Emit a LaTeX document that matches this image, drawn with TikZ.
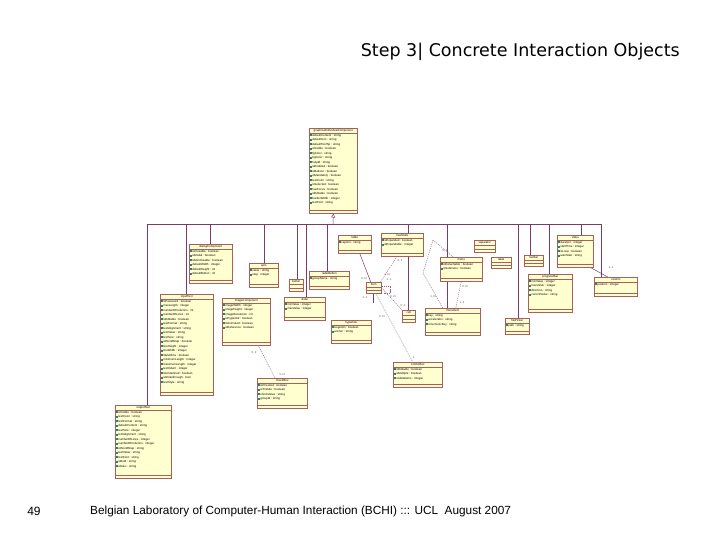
\documentclass[tikz,border=0pt]{standalone}
\usepackage{fontspec}
\setmainfont{Liberation Sans}
\newfontfamily\titlefont{DejaVu Sans}
\newfontfamily\boxfont{Liberation Sans}
\usetikzlibrary{arrows.meta}
\pgfdeclarelayer{bg}
\pgfsetlayers{bg,main}
\definecolor{boxfill}{RGB}{255,255,208}
\definecolor{boxline}{RGB}{170,95,90}
\definecolor{connc}{RGB}{125,60,100}
\definecolor{iconc}{RGB}{40,130,120}
\newcommand\ic{\textcolor{iconc}{\rule{2pt}{2.2pt}}\hspace{0.5pt}}
\tikzset{
  cls/.style={draw=boxline,fill=boxfill,line width=0.5pt,inner sep=0pt},
  ttl/.style={font=\boxfont\fontsize{2.9}{3.4}\selectfont,inner sep=0pt},
  att/.style={anchor=north west,align=left,font=\boxfont\fontsize{2.9}{4.5}\selectfont,inner sep=0pt},
  cn/.style={draw=connc,line width=0.5pt},
  dsh/.style={draw=connc!80,line width=0.4pt,dash pattern=on 1.2pt off 0.9pt},
  lbl/.style={font=\boxfont\fontsize{2.8}{3}\selectfont,text=black!70,inner sep=0.3pt}
}
\newcommand\cbox[7]{%
  \node[cls,minimum width=#4pt,minimum height=#5pt,anchor=north west] (#1) at (#2,#3) {};
  \node[ttl] at ([yshift=-2.7pt]#1.north) {#6};
  \draw[boxline,line width=0.4pt] ([yshift=-5.4pt]#1.north west) -- ([yshift=-5.4pt]#1.north east);
  \draw[boxline,line width=0.4pt] ([yshift=3.5pt]#1.south west) -- ([yshift=3.5pt]#1.south east);
  \node[att] at ([xshift=0.7pt,yshift=-6pt]#1.north west) {#7};
}
\begin{document}
\begin{tikzpicture}[x=1pt,y=-1pt]
\useasboundingbox (0,0) rectangle (720,540);
\begin{pgfonlayer}{bg}
\fill[white] (0,0) rectangle (720,540);
\end{pgfonlayer}

% titles
\node[font=\titlefont\fontsize{17.5}{19}\selectfont,anchor=east,inner sep=0pt] (title) at (680,52) {Step 3| Concrete Interaction Objects};
\node[font=\fontsize{12}{14}\selectfont,inner sep=0pt] (pnum) at (34,511) {49};
\node[font=\fontsize{11.8}{14}\selectfont,anchor=west,inner sep=0pt] (foot) at (90,511) {Belgian Laboratory of Computer-Human Interaction (BCHI) ::: UCL\ \ August 2007};

% classes
\cbox{top}{309}{128}{48}{85}{graphicalIndividualComponent}{\ic defaultContent : string\\\ic defaultIcon : string\\\ic defaultToolTip : string\\\ic isVisible : boolean\\\ic fgColor : string\\\ic bgColor : string\\\ic helpId : string\\\ic isEnabled : boolean\\\ic isBalloon : boolean\\\ic isMandatory : boolean\\\ic textColor : string\\\ic isSelected : boolean\\\ic hasFocus : boolean\\\ic isEditable : boolean\\\ic borderWidth : integer\\\ic textFont : string}
\cbox{dialog}{189}{244}{43}{39}{dialogComponent}{\ic isClosable : boolean\\\ic isModal : boolean\\\ic isMinimizable : boolean\\\ic defaultWidth : integer\\\ic defaultHeight : int\\\ic defaultButton : int}
\cbox{spin}{249}{263}{29}{24}{spin}{\ic value : string\\\ic step : integer}
\cbox{button}{289}{279}{14}{12}{button}{}
\cbox{radio}{309}{271}{40}{18}{radioButton}{\ic groupName : string}
\cbox{slider}{284}{297}{41}{23}{slider}{\ic minValue : integer\\\ic maxValue : integer}
\cbox{table}{338}{235}{33}{18}{table}{\ic caption : string}
\cbox{tree}{381}{233}{42}{23}{treeNode}{\ic isExpanded : boolean\\\ic isExpandable : integer}
\cbox{item}{366}{282}{15}{11}{item}{}
\cbox{cell}{402}{310}{13}{12}{cell}{}
\cbox{link}{331}{320}{40}{23}{hyperlink}{\ic targetUrl : boolean\\\ic anchor : string}
\cbox{menu}{440}{257}{42}{24}{menu}{\ic isDetachable : boolean\\\ic isSubmenu : boolean}
\cbox{sep}{474}{240}{21}{12}{separator}{}
\cbox{label}{491}{257}{20}{11}{label}{}
\cbox{mitem}{425}{308}{55}{27}{menuItem}{\ic key : string\\\ic accelerator : string\\\ic mnemonicKey : string}
\cbox{toolbar}{524}{255}{19}{11}{toolbar}{}
\cbox{video}{557}{235}{36}{32}{video}{\ic duration : integer\\\ic startTime : integer\\\ic isLoop : boolean\\\ic autoStart : string}
\cbox{pbar}{528}{274}{44}{38}{progressBar}{\ic minValue : integer\\\ic maxValue : integer\\\ic direction : string\\\ic currentValue : string}
\cbox{column}{594}{277}{43}{19}{column}{\ic position : integer}
\cbox{file}{505}{318}{24}{16}{filePicker}{\ic path : string}
\cbox{input}{160}{294}{53}{101}{inputText}{\ic isPassword : boolean\\\ic maxLength : integer\\\ic numberOfColumns : int\\\ic numberOfLines : int\\\ic isEditable : boolean\\\ic textFormat : string\\\ic textAlignment : string\\\ic textValue : string\\\ic textSize : string\\\ic isWordWrap : boolean\\\ic lineHeight : integer\\\ic lineWidth : integer\\\ic isMultiline : boolean\\\ic minimumLength : integer\\\ic maximumLength : integer\\\ic textIndent : integer\\\ic isUnderlined : boolean\\\ic isStrikethrough : bool\\\ic textStyle : string}
\cbox{image}{222}{298}{48}{47}{imageComponent}{\ic imageWidth : integer\\\ic imageHeight : integer\\\ic imageResolution : int\\\ic isHyperlink : boolean\\\ic isAnimated : boolean\\\ic isReference : boolean}
\cbox{check}{257}{378}{50}{30}{checkBox}{\ic isChecked : boolean\\\ic isTristate : boolean\\\ic checkValue : string\\\ic groupId : string}
\cbox{combo}{393}{362}{49}{25}{comboBox}{\ic isEditable : boolean\\\ic isMultiple : boolean\\\ic visibleItems : integer}
\cbox{output}{115}{405}{56}{73}{outputText}{\ic isVisible : boolean\\\ic textColor : string\\\ic textFormat : string\\\ic defaultContent : string\\\ic textSize : integer\\\ic textAlignment : string\\\ic numberOfLines : integer\\\ic numberOfColumns : integer\\\ic isWordWrap : string\\\ic textValue : string\\\ic textFont : string\\\ic isBold : string\\\ic isItalic : string}

% connectors
\begin{pgfonlayer}{bg}
\coordinate (barL) at (147,224);
\coordinate (barR) at (601,224);
\coordinate (gtap) at (333,224);
\draw[cn] (barL) -- (barR);
\draw[cn,-{Triangle[open,length=4pt,width=4pt]}] (gtap) -- (top.south);
\foreach \tx/\tb in {147/output,186/input,210/dialog,264/spin,297/button,306/slider,327/radio,408/cell,447/mitem,518/file,530/toolbar,549/pbar,581/video,601/column}{
  \coordinate (tap\tx) at (\tx,224);
  \draw[cn] (tap\tx) -- (tap\tx |- \tb.north);
}
% associations around item
\draw[cn] ([xshift=5pt]table.south) -- ([xshift=-3pt]item.north);
\node[lbl] (l1) at (364,279) {0..N};
\draw[dsh] ([xshift=-1pt]item.north east) -- ([xshift=16pt]tree.south west);
\node[lbl] (l2) at (400,261) {0..1};
\node[lbl] (l3) at (387,275) {1..N};
\draw[dsh] (item.east) -- (cell.north west);
\draw[dsh] ([yshift=2pt]item.east) -- ++(9,0) coordinate (lpa) -- (lpa |- item.south) coordinate (lpb) -- ++(-7,0) coordinate (lpc);
\node[lbl] (l4) at (389,280) {1..1};
\node[lbl] (l5) at (393,297) {0..N};
\node[lbl] (l6) at (403,306) {0..1};
\draw[dsh] ([xshift=2pt]item.south) -- ([xshift=-5pt]combo.north);
\node[lbl] (l7) at (382,317) {0..N};
\node[lbl] (l8) at (414,358) {1};
\draw[cn] ([xshift=-1pt]item.south) -- ++(0,9) coordinate (ist);
\node[lbl] (l9) at (365,298) {1..1};
% menu
\draw[dsh] (menu.south) -- ([xshift=3pt]mitem.north);
\node[lbl] (m1) at (465,287) {0..N};
\node[lbl] (m2) at (462,303) {1..1};
\coordinate (lp) at (433,240);
\draw[dsh] (lp) -- ([xshift=-8pt]menu.north);
\draw[dsh] (lp) -- (423,273) -- ([xshift=-10pt]mitem.north);
\node[lbl] (m3) at (433,297) {1..N};
\node[lbl] (m4) at (445,251) {0..1};
% video - column
\draw[cn] ([xshift=-3pt]video.south east) -- ([xshift=-8pt]column.north);
\node[lbl] (v1) at (593,262) {1};
\node[lbl] (v2) at (611,268) {1..1};
% image - checkbox
\draw[dsh] ([xshift=12pt]image.south) -- ([xshift=18pt]check.north west);
\node[lbl] (i1) at (254,353) {0..1};
\node[lbl] (i2) at (282,375) {1..N};
\end{pgfonlayer}
\end{tikzpicture}
\end{document}
